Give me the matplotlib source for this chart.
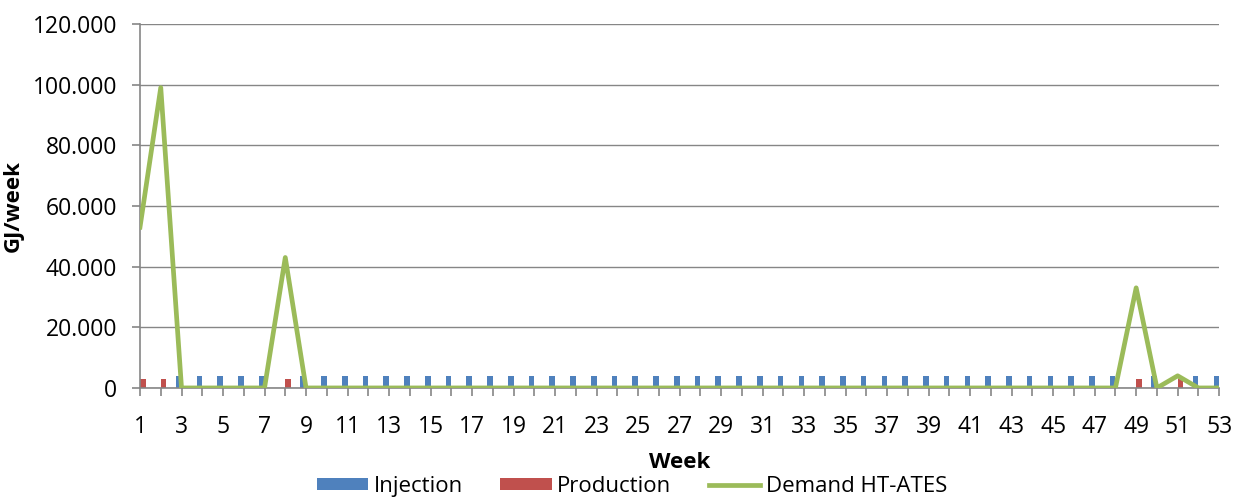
import matplotlib
matplotlib.use('Agg')
import matplotlib.pyplot as plt
import numpy as np

weeks = list(range(1, 54))
# values in thousands of GJ/week
injection = [0, 0, 3.9, 3.9, 3.9, 3.9, 3.9, 0, 3.9] + [3.9] * 39 + [0, 3.9, 0, 3.9, 3.9]
production = [2.9, 2.9, 0, 0, 0, 0, 0, 2.9, 0] + [0] * 39 + [2.9, 0, 2.9, 0, 0]
demand = [53, 99, 0, 0, 0, 0, 0, 43, 0] + [0] * 39 + [33, 0, 4, 0, 0]
yticks = [0, 20, 40, 60, 80, 100, 120]
ytick_labels = ['0', '20.000', '40.000', '60.000', '80.000', '100.000', '120.000']

plt.rcParams['font.family'] = ['Open Sans', 'DejaVu Sans']

fig = plt.figure(figsize=(12.39, 4.98), dpi=100)
ax = fig.add_axes([0.113, 0.221, 0.871, 0.731])

x = np.array(weeks)
w = 0.27
b1 = ax.bar(x - w / 2, injection, width=w, color='#4F81BD', label='Injection', zorder=2)
b2 = ax.bar(x + w / 2, production, width=w, color='#C0504D', label='Production', zorder=2)
l1, = ax.plot(x, demand, color='#9BBB59', lw=3.4, label='Demand HT-ATES', zorder=3)

ax.set_xlim(1, 53)
ax.set_ylim(0, 120)
ax.set_yticks(yticks)
ax.set_yticklabels(ytick_labels)
ax.set_xticks(weeks)
ax.set_xticklabels([str(wk) if wk % 2 == 1 else '' for wk in weeks])
ax.tick_params(axis='both', labelsize=16.5, colors='#868686', labelcolor='black', length=6, width=1.2)
ax.tick_params(axis='x', pad=13.5)
ax.tick_params(axis='y', pad=10.5)
ax.grid(axis='y', color='#868686', lw=1)
ax.set_axisbelow(True)
for s in ['top', 'right']:
    ax.spines[s].set_visible(False)
for s in ['left', 'bottom']:
    ax.spines[s].set_color('#868686')
    ax.spines[s].set_linewidth(1.2)

ax.set_xlabel('Week', fontsize=16, fontweight='bold', labelpad=9)
ax.set_ylabel('GJ/week', fontsize=16, fontweight='bold')
ax.yaxis.set_label_coords(-0.108, 0.5)

fig.legend([b1, b2, l1], ['Injection', 'Production', 'Demand HT-ATES'],
           loc='center', bbox_to_anchor=(632 / 1239, 1 - 486 / 498), ncol=3, frameon=False,
           fontsize=16, handlelength=2.3, handleheight=0.45, columnspacing=1.7,
           handletextpad=0.25, borderaxespad=0, borderpad=0)

plt.savefig('out.png', dpi=100)
